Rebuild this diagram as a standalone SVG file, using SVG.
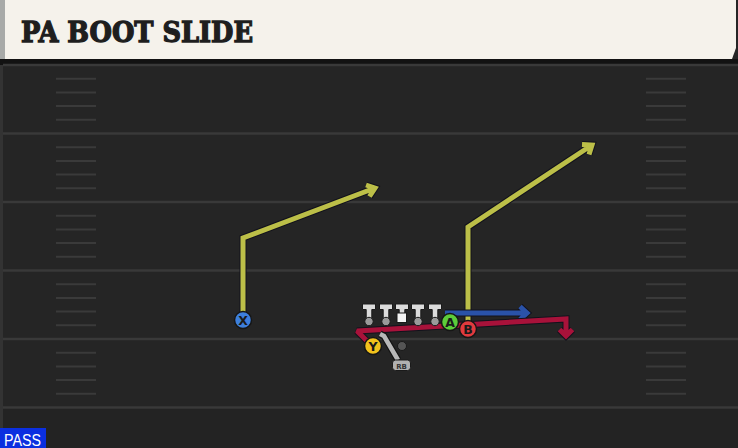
<svg xmlns="http://www.w3.org/2000/svg" width="738" height="448" viewBox="0 0 738 448">
<defs>
<style>
.yard{stroke:#393939;stroke-width:2.5}
.hash{stroke:#3a3a3a;stroke-width:2}
.out{fill:none;stroke:#12121c;stroke-width:7;stroke-linejoin:miter;stroke-miterlimit:2;stroke-linecap:butt}
.yel{fill:none;stroke:#bcbf48;stroke-width:5;stroke-linejoin:miter;stroke-miterlimit:2}
.red{fill:none;stroke:#a8123a;stroke-width:5;stroke-linejoin:miter;stroke-miterlimit:2}
.blu{fill:none;stroke:#2a52a8;stroke-width:5;stroke-linejoin:miter;stroke-miterlimit:2}
.rb{fill:none;stroke:#b8b8b8;stroke-width:4.5}
.pl{stroke:#161616;stroke-width:1.5}
.lt{font-family:"DejaVu Sans","Liberation Sans",sans-serif;font-weight:bold;font-size:12.5px;fill:#1a1a1a;text-anchor:middle}
.ol{fill:#dcdcdc;stroke:#1a1a1a;stroke-width:1}
.od{fill:#9a9a9a;stroke:#1a1a1a;stroke-width:1}
</style>
</defs>
<rect x="0" y="0" width="738" height="448" fill="#252525"/>
<rect x="0" y="408" width="738" height="40" fill="#232323"/>
<rect x="0" y="59" width="3" height="389" fill="#333333"/>
<!-- header -->
<rect x="0" y="59" width="738" height="6" fill="#121212"/>
<path d="M0 0 H736 V48 L732 59 H0 Z" fill="#f5f2eb"/>
<rect x="0" y="0" width="5" height="59" fill="#a8aaa8"/>
<text x="21" y="42" font-family="'DejaVu Serif','Liberation Serif',serif" font-weight="900" font-size="27" fill="#1e1e1e" stroke="#1e1e1e" stroke-width="1.3" textLength="232" lengthAdjust="spacingAndGlyphs">PA BOOT SLIDE</text>
<!-- field lines -->
<g id="field">
<line class="yard" x1="3" y1="65" x2="738" y2="65"/>
<line class="yard" x1="3" y1="133.5" x2="738" y2="133.5"/>
<line class="yard" x1="3" y1="202" x2="738" y2="202"/>
<line class="yard" x1="3" y1="270.5" x2="738" y2="270.5"/>
<line class="yard" x1="3" y1="339" x2="738" y2="339"/>
<line class="yard" x1="3" y1="407.5" x2="738" y2="407.5"/>
<path class="hash" d="M56 78.7H96M56 92.4H96M56 106.1H96M56 119.8H96M56 147.2H96M56 160.9H96M56 174.6H96M56 188.3H96M56 215.7H96M56 229.4H96M56 243.1H96M56 256.8H96M56 284.2H96M56 297.9H96M56 311.6H96M56 325.3H96M56 352.7H96M56 366.4H96M56 380.1H96M56 393.8H96"/>
<path class="hash" d="M646 78.7H686M646 92.4H686M646 106.1H686M646 119.8H686M646 147.2H686M646 160.9H686M646 174.6H686M646 188.3H686M646 215.7H686M646 229.4H686M646 243.1H686M646 256.8H686M646 284.2H686M646 297.9H686M646 311.6H686M646 325.3H686M646 352.7H686M646 366.4H686M646 380.1H686M646 393.8H686"/>
</g>
<!-- connectors -->
<g id="connectors">
<path class="out" d="M243 314V238L375 188M366 185L375 188L369.5 196.5"/>
<path class="yel" d="M243 314V238L375 188M366 185L375 188L369.5 196.5"/>
<path class="out" d="M468 322V227L592 145M582 144.5L592 145L589 154.5"/>
<path class="yel" d="M468 322V227L592 145M582 144.5L592 145L589 154.5"/>
<path class="out" d="M445 313H527M520 306.5L527 313L520 319.5"/>
<path class="blu" d="M445 313H527M520 306.5L527 313L520 319.5"/>
<path class="out" d="M370 344L357 331L566 319V336M559.5 329.5L566 336L572.5 329.5"/>
<path class="red" d="M370 344L357 331L566 319V336M559.5 329.5L566 336L572.5 329.5"/>
<path d="M380 334L384 336L398 360" fill="none" stroke="#141414" stroke-width="7"/>
<path class="rb" d="M380 334L384 336L398 360"/>
</g>
<!-- offensive line -->
<g id="oline">
<g id="lt"><path class="ol" d="M362.5 304H375.5V309.5H371.8V319H366.2V309.5H362.5Z"/><circle class="od" cx="369" cy="321.5" r="4.2"/></g>
<g id="lg"><path class="ol" d="M379.5 304H392.5V309.5H388.8V319H383.2V309.5H379.5Z"/><circle class="od" cx="386" cy="321.5" r="4.2"/></g>
<g id="c"><path class="ol" d="M395.5 304H408.5V309.5H404.8V314H399.2V309.5H395.5Z"/><rect x="397" y="313" width="9.5" height="9.5" fill="#f4f4f4" stroke="#1a1a1a" stroke-width="1"/></g>
<g id="rg"><path class="ol" d="M411.5 304H424.5V309.5H420.8V319H415.2V309.5H411.5Z"/><circle class="od" cx="418" cy="321.5" r="4.2"/></g>
<g id="rt"><path class="ol" d="M428.5 304H441.5V309.5H437.8V319H432.2V309.5H428.5Z"/><circle class="od" cx="435" cy="321.5" r="4.2"/></g>
</g>
<g id="qb"><circle cx="402" cy="346" r="4.5" fill="#555555" stroke="#1a1a1a" stroke-width="1"/></g>
<g id="rb-node"><rect x="392.5" y="360" width="18" height="10.5" rx="3" fill="#b0b0b0" stroke="#1a1a1a" stroke-width="1"/><text x="401.5" y="368.5" font-family="'DejaVu Sans',sans-serif" font-size="7" font-weight="bold" fill="#333" text-anchor="middle">RB</text></g>
<g id="x"><circle class="pl" cx="243" cy="320" r="8.5" fill="#3d7fdc"/><text class="lt" x="243" y="324.5">X</text></g>
<g id="a"><circle class="pl" cx="450" cy="322" r="8.5" fill="#5ccc3a"/><text class="lt" x="450" y="326.5">A</text></g>
<g id="b"><circle class="pl" cx="468" cy="329" r="8.5" fill="#e23a3e"/><text class="lt" x="468" y="333.5">B</text></g>
<g id="y"><circle class="pl" cx="373" cy="346" r="8.5" fill="#f2c21c"/><text class="lt" x="373" y="350.5">Y</text></g>
<g id="pass"><rect x="0" y="428" width="46" height="20" fill="#0b2fe0"/><text x="4" y="445.5" font-family="'Liberation Sans','Roboto',sans-serif" font-size="16" fill="#ffffff" textLength="37" lengthAdjust="spacingAndGlyphs">PASS</text></g>
</svg>
